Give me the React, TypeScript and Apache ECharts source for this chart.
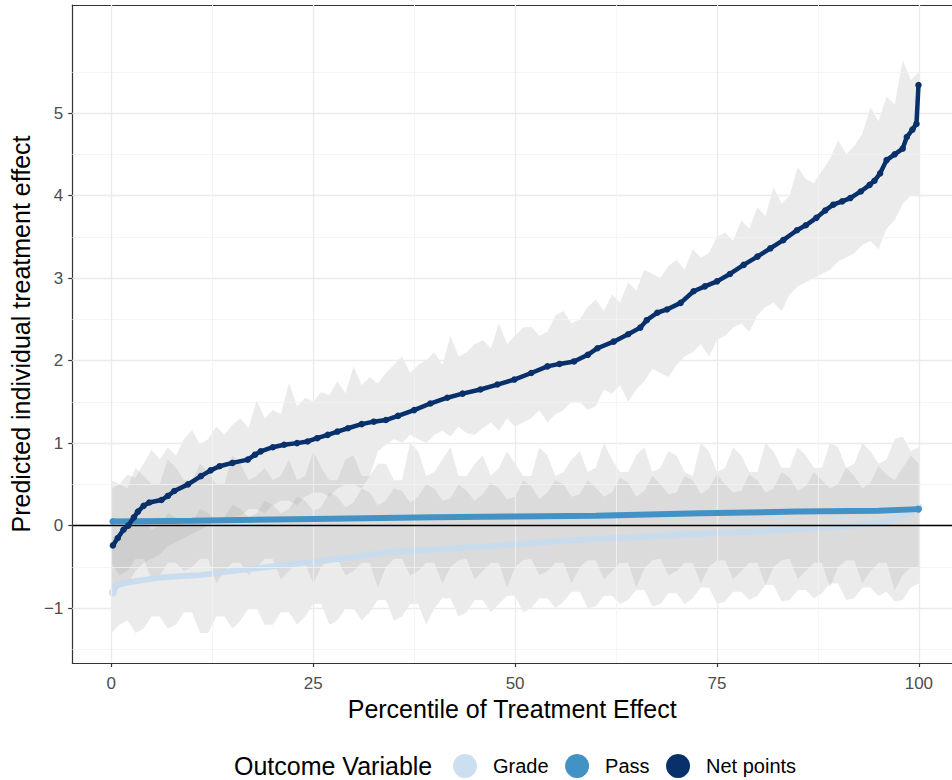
import React, { useEffect, useRef } from "react";
import * as echarts from "echarts";

// ---------- data ----------
const xTicks = [0, 25, 50, 75, 100];
const yTicks = [-1, 0, 1, 2, 3, 4, 5];
const xMinor = [12.5, 37.5, 62.5, 87.5];
const yMinor = [-1.5, -0.5, 0.5, 1.5, 2.5, 3.5, 4.5, 5.5];

// ribbon percentile grid: 0, 1, 2, ..., 100
const ribbonX = Array.from({ length: 101 }, (_, i) => i);

const netUpper = [0.45, 0.5, 0.62, 0.58, 0.75, 0.92, 0.8, 0.95, 0.85, 1.05, 1.16, 0.98, 1.05, 1.2, 1.1, 1.22, 1.3, 1.18, 1.52, 1.3, 1.4, 1.35, 1.73, 1.45, 1.55, 1.5, 1.62, 1.58, 1.75, 1.6, 1.93, 1.7, 1.8, 1.72, 1.85, 1.95, 2.05, 1.85, 1.95, 2.0, 2.1, 1.95, 2.3, 2.05, 2.1, 2.2, 2.25, 2.15, 2.45, 2.2, 2.3, 2.4, 2.41, 2.3, 2.35, 2.55, 2.6, 2.45, 2.5, 2.65, 2.74, 2.6, 2.8, 2.7, 2.95, 2.85, 3.1, 3.05, 3.0, 3.15, 3.22, 3.1, 3.35, 3.25, 3.3, 3.5, 3.55, 3.45, 3.7, 3.6, 3.86, 3.75, 4.1, 3.9, 4.0, 4.35, 4.2, 4.15, 4.3, 4.45, 4.67, 4.5, 4.6, 4.75, 5.07, 4.9, 5.2, 5.1, 5.64, 5.4, 5.5];
const netLower = [-0.85, -0.75, -0.7, -0.55, -0.45, -0.4, -0.35, -0.25, -0.2, -0.15, -0.1, -0.05, 0.0, 0.1, 0.05, 0.1, 0.12, 0.2, 0.2, 0.15, 0.25, 0.3, 0.3, 0.25, 0.35, 0.4, 0.4, 0.35, 0.45, 0.5, 0.5, 0.45, 0.6, 0.9, 0.98, 1.05, 1.0, 1.1, 1.05, 1.0, 1.1, 1.15, 1.08, 1.2, 1.12, 1.1, 1.18, 1.25, 1.15, 1.3, 1.2, 1.25, 1.3, 1.4, 1.25, 1.35, 1.4, 1.5, 1.5, 1.4, 1.45, 1.65, 1.6, 1.7, 1.5, 1.65, 1.75, 1.9, 1.85, 1.8, 1.95, 2.05, 2.1, 2.2, 2.05, 2.25, 2.3, 2.4, 2.45, 2.35, 2.55, 2.65, 2.7, 2.6, 2.8, 2.9, 2.95, 3.0, 3.05, 3.1, 3.2, 3.25, 3.3, 3.4, 3.45, 3.35, 3.6, 3.7, 3.9, 4.0, 4.0];

const passUpper = [0.55, 0.5, 0.45, 0.7, 0.6, 0.5, 0.5, 0.8, 0.7, 0.55, 0.55, 0.75, 0.65, 0.5, 0.5, 0.85, 0.75, 0.55, 0.6, 0.7, 0.55, 0.6, 0.8, 0.55, 0.6, 0.9, 0.7, 0.55, 0.55, 0.8, 0.85, 0.6, 0.6, 0.75, 0.75, 0.55, 0.55, 1.0, 0.9, 0.6, 0.65, 0.8, 0.95, 0.6, 0.6, 0.75, 0.85, 0.6, 0.7, 0.9, 0.75, 0.6, 0.6, 0.95, 0.85, 0.6, 0.65, 0.8, 0.9, 0.65, 0.7, 1.0, 0.8, 0.65, 0.65, 0.85, 0.95, 0.65, 0.7, 0.9, 0.85, 0.65, 0.6, 1.0, 0.9, 0.65, 0.7, 0.95, 0.85, 0.65, 0.65, 1.0, 0.9, 0.7, 0.7, 0.95, 0.85, 0.7, 0.7, 1.0, 0.95, 0.7, 0.75, 1.0, 0.9, 0.75, 0.8, 1.05, 1.08, 0.9, 0.95];
const passLower = [-0.45, -0.6, -0.55, -0.4, -0.4, -0.65, -0.6, -0.45, -0.45, -0.55, -0.5, -0.4, -0.4, -0.7, -0.55, -0.45, -0.45, -0.6, -0.5, -0.4, -0.4, -0.65, -0.55, -0.45, -0.45, -0.7, -0.5, -0.4, -0.4, -0.6, -0.55, -0.45, -0.45, -0.75, -0.5, -0.4, -0.4, -0.6, -0.55, -0.45, -0.45, -0.7, -0.5, -0.42, -0.4, -0.65, -0.55, -0.45, -0.45, -0.75, -0.5, -0.42, -0.4, -0.6, -0.55, -0.45, -0.45, -0.7, -0.5, -0.42, -0.42, -0.65, -0.55, -0.45, -0.45, -0.75, -0.52, -0.42, -0.4, -0.6, -0.55, -0.45, -0.45, -0.7, -0.5, -0.42, -0.42, -0.65, -0.55, -0.45, -0.45, -0.72, -0.5, -0.42, -0.4, -0.65, -0.55, -0.45, -0.45, -0.75, -0.5, -0.42, -0.42, -0.7, -0.55, -0.45, -0.45, -0.78, -0.6, -0.5, -0.5];

const gradeUpper = [-0.15, -0.1, -0.05, 0.1, 0.05, -0.05, 0.0, 0.15, 0.1, 0.0, 0.05, 0.2, 0.15, 0.05, 0.1, 0.25, 0.2, 0.1, 0.15, 0.3, 0.25, 0.15, 0.2, 0.35, 0.3, 0.18, 0.22, 0.4, 0.35, 0.22, 0.28, 0.45, 0.4, 0.25, 0.3, 0.45, 0.42, 0.28, 0.35, 0.5, 0.45, 0.3, 0.33, 0.5, 0.42, 0.3, 0.38, 0.52, 0.45, 0.32, 0.35, 0.55, 0.48, 0.32, 0.4, 0.55, 0.5, 0.35, 0.38, 0.55, 0.46, 0.35, 0.4, 0.58, 0.52, 0.35, 0.42, 0.6, 0.5, 0.38, 0.4, 0.6, 0.55, 0.38, 0.45, 0.62, 0.5, 0.4, 0.42, 0.62, 0.55, 0.4, 0.45, 0.65, 0.58, 0.42, 0.48, 0.65, 0.55, 0.45, 0.5, 0.7, 0.6, 0.45, 0.52, 0.72, 0.62, 0.55, 0.7, 0.85, 0.75];
const gradeLower = [-1.3, -1.2, -1.15, -1.3, -1.25, -1.1, -1.1, -1.25, -1.2, -1.05, -1.05, -1.3, -1.3, -1.1, -1.1, -1.25, -1.15, -1.0, -1.0, -1.2, -1.2, -1.05, -1.05, -1.2, -1.1, -0.95, -0.95, -1.2, -1.15, -1.0, -1.0, -1.15, -1.05, -0.9, -0.9, -1.15, -1.1, -0.95, -0.95, -1.2, -1.0, -0.88, -0.88, -1.1, -1.05, -0.9, -0.9, -1.05, -0.95, -0.85, -0.85, -1.05, -1.0, -0.88, -0.88, -1.0, -0.92, -0.8, -0.8, -1.0, -0.98, -0.85, -0.85, -0.95, -0.9, -0.78, -0.78, -0.98, -0.95, -0.82, -0.82, -0.95, -0.88, -0.75, -0.75, -0.95, -0.92, -0.8, -0.8, -0.9, -0.85, -0.72, -0.72, -0.92, -0.9, -0.78, -0.78, -0.88, -0.82, -0.7, -0.7, -0.9, -0.88, -0.75, -0.75, -0.85, -0.8, -0.92, -0.9, -0.75, -0.7];

const netLine: [number, number][] = [[0.2, -0.24], [0.8, -0.15], [1.5, -0.05], [2.1, 0.0], [2.8, 0.1], [3.3, 0.17], [4.0, 0.24], [4.7, 0.28], [6.2, 0.31], [7.0, 0.36], [7.8, 0.42], [9.5, 0.5], [11.1, 0.6], [12.3, 0.67], [13.4, 0.72], [15.0, 0.76], [16.9, 0.8], [17.8, 0.86], [18.5, 0.9], [20.0, 0.95], [21.4, 0.98], [23.0, 1.0], [24.3, 1.02], [25.5, 1.06], [26.8, 1.1], [28.0, 1.14], [29.3, 1.18], [31.0, 1.23], [32.5, 1.26], [34.0, 1.28], [35.5, 1.33], [37.5, 1.4], [39.5, 1.48], [41.6, 1.55], [43.5, 1.6], [45.7, 1.65], [47.8, 1.71], [49.9, 1.77], [52.0, 1.85], [54.0, 1.93], [55.5, 1.96], [57.3, 1.99], [59.0, 2.07], [60.2, 2.15], [62.2, 2.23], [64.0, 2.32], [65.5, 2.4], [66.3, 2.49], [67.6, 2.58], [68.8, 2.62], [70.5, 2.7], [72.1, 2.84], [73.5, 2.9], [75.0, 2.96], [76.6, 3.05], [78.3, 3.16], [80.0, 3.26], [81.6, 3.36], [83.2, 3.46], [84.9, 3.58], [86.0, 3.64], [87.3, 3.73], [88.4, 3.82], [89.4, 3.89], [90.5, 3.93], [91.5, 3.97], [92.8, 4.05], [93.9, 4.13], [94.5, 4.18], [95.2, 4.27], [96.0, 4.43], [97.0, 4.5], [98.0, 4.57], [98.5, 4.71], [99.2, 4.8], [99.7, 4.87], [99.95, 5.34]];

const passLine: [number, number][] = [[0.2, 0.05], [10, 0.06], [25, 0.08], [40, 0.1], [50, 0.11], [60, 0.12], [73, 0.15], [85, 0.17], [95, 0.18], [99.95, 0.2]];

const gradeLine: [number, number][] = [[0.2, -0.81], [0.6, -0.72], [2, -0.69], [6, -0.63], [11, -0.6], [15, -0.55], [18.5, -0.51], [22, -0.47], [25, -0.44], [30, -0.38], [34.6, -0.32], [40, -0.29], [45, -0.26], [50, -0.23], [55, -0.19], [60, -0.16], [65, -0.14], [70.5, -0.11], [75, -0.09], [80, -0.07], [87.4, -0.03], [93.6, 0.01], [96, 0.05], [97.7, 0.11], [99, 0.16], [99.95, 0.22]];

const seriesNames = ["Grade", "Pass", "Net points"];
const seriesColors = ["#C6DBEF", "#4292C6", "#08306B"];

const FONT = "Liberation Sans, Arial, Helvetica, sans-serif";
const X_MIN = -4.83;
const X_MAX = 104.1;
const Y_MIN = -1.665;
const Y_MAX = 6.31;

function ribbonSeries(name: string, lower: number[], upper: number[]) {
  const data = ribbonX.map((x, i) => [x, lower[i], upper[i]]);
  return {
    type: "custom",
    name,
    data,
    encode: { x: 0, y: [1, 2] },
    silent: true,
    z: 1,
    renderItem: (params: any, api: any) => {
      if (params.dataIndex !== 0) return null;
      const top = data.map((d) => api.coord([d[0], d[2]]));
      const bot = data.map((d) => api.coord([d[0], d[1]])).reverse();
      return {
        type: "polygon",
        shape: { points: top.concat(bot) },
        style: { fill: "rgba(153,153,153,0.2)", stroke: "none" },
      };
    },
  };
}

export default function App() {
  const ref = useRef<HTMLDivElement>(null);
  useEffect(() => {
    const chart = echarts.init(ref.current!, null, { renderer: "svg" });
    const major = { color: "#EBEBEB", width: 1.3, type: "solid" };
    const minor = { color: "#F2F2F2", width: 0.8, type: "solid" };
    const gridMarks = [
      ...yTicks.map((v) => ({ yAxis: v, lineStyle: major })),
      ...yMinor.map((v) => ({ yAxis: v, lineStyle: minor })),
      ...xTicks.map((v) => ({ xAxis: v, lineStyle: major })),
      ...xMinor.map((v) => ({ xAxis: v, lineStyle: minor })),
    ];
    const lastGrade = gradeLine.length - 1;
    const lastPass = passLine.length - 1;
    const axisLineStyle = { color: "#333333", width: 1.2 };
    const option: any = {
      animation: false,
      backgroundColor: "#ffffff",
      textStyle: { fontFamily: FONT },
      title: {
        text: "Outcome Variable",
        left: 234,
        top: 753,
        padding: 0,
        textStyle: { fontFamily: FONT, fontSize: 25, fontWeight: "normal", color: "#000" },
      },
      legend: {
        data: seriesNames,
        left: 453,
        top: 754,
        padding: 0,
        icon: "circle",
        itemWidth: 24,
        itemHeight: 24,
        itemGap: 16.5,
        selectedMode: false,
        textStyle: { fontFamily: FONT, fontSize: 20, color: "#000", padding: [0, 0, 0, 11] },
      },
      grid: {
        left: 72,
        right: 0,
        top: 5,
        bottom: 117,
        show: false,
      },
      xAxis: [
        {
          type: "value",
          min: X_MIN,
          max: X_MAX,
          name: "Percentile of Treatment Effect",
          nameLocation: "middle",
          nameGap: 31,
          nameTextStyle: { fontFamily: FONT, fontSize: 25, color: "#000" },
          axisLine: { show: true, onZero: false, lineStyle: axisLineStyle },
          axisTick: { show: true, customValues: xTicks, length: 4, lineStyle: axisLineStyle },
          axisLabel: { customValues: xTicks, fontFamily: FONT, fontSize: 17, color: "#4D4D4D", margin: 12 },
          splitLine: { show: false },
        },
        {
          type: "value",
          position: "top",
          min: X_MIN,
          max: X_MAX,
          axisLine: { show: true, onZero: false, lineStyle: axisLineStyle },
          axisTick: { show: false },
          axisLabel: { show: false },
          splitLine: { show: false },
        },
      ],
      yAxis: {
        type: "value",
        min: Y_MIN,
        max: Y_MAX,
        name: "Predicted individual treatment effect",
        nameLocation: "middle",
        nameRotate: 90,
        nameGap: 37,
        nameTextStyle: { fontFamily: FONT, fontSize: 25, color: "#000" },
        axisLine: { show: true, onZero: false, lineStyle: axisLineStyle },
        axisTick: { show: true, customValues: yTicks, length: 4, lineStyle: axisLineStyle },
        axisLabel: {
          customValues: yTicks,
          fontFamily: FONT,
          fontSize: 17,
          color: "#4D4D4D",
          margin: 9,
          formatter: (v: number) => (v < 0 ? "\u2212" + Math.abs(v) : String(v)),
        },
        splitLine: { show: false },
      },
      series: [
        {
          type: "line",
          name: "gridlines",
          data: [],
          z: 0,
          silent: true,
          markLine: { silent: true, symbol: ["none", "none"], label: { show: false }, animation: false, data: gridMarks },
        },
        ribbonSeries("Net band", netLower, netUpper),
        ribbonSeries("Grade band", gradeLower, gradeUpper),
        ribbonSeries("Pass band", passLower, passUpper),
        {
          type: "line",
          name: "zero",
          data: [],
          z: 3,
          silent: true,
          markLine: {
            silent: true,
            symbol: ["none", "none"],
            label: { show: false },
            animation: false,
            data: [{ yAxis: 0, lineStyle: { color: "#000", width: 1.3, type: "solid" } }],
          },
        },
        {
          type: "line",
          name: "Grade",
          data: gradeLine,
          z: 4,
          color: seriesColors[0],
          lineStyle: { color: seriesColors[0], width: 6, opacity: 0.9 },
          itemStyle: { color: seriesColors[0], opacity: 0.9 },
          symbol: "circle",
          symbolSize: (_v: any, p: any) => (p.dataIndex === 0 || p.dataIndex === lastGrade ? 8 : 0),
          showSymbol: true,
        },
        {
          type: "line",
          name: "Pass",
          data: passLine,
          z: 5,
          color: seriesColors[1],
          lineStyle: { color: seriesColors[1], width: 6 },
          itemStyle: { color: seriesColors[1] },
          symbol: "circle",
          symbolSize: (_v: any, p: any) => (p.dataIndex === 0 || p.dataIndex === lastPass ? 7 : 0),
          showSymbol: true,
        },
        {
          type: "line",
          name: "Net points",
          data: netLine,
          z: 6,
          color: seriesColors[2],
          lineStyle: { color: seriesColors[2], width: 4.5 },
          itemStyle: { color: seriesColors[2] },
          symbol: "circle",
          symbolSize: 6.5,
          showSymbol: true,
        },
      ],
    };
    chart.setOption(option);
    return () => chart.dispose();
  }, []);
  return (
    <div
      ref={ref}
      style={{ position: "fixed", left: 0, top: 0, width: 952, height: 780, background: "#fff" }}
    />
  );
}
